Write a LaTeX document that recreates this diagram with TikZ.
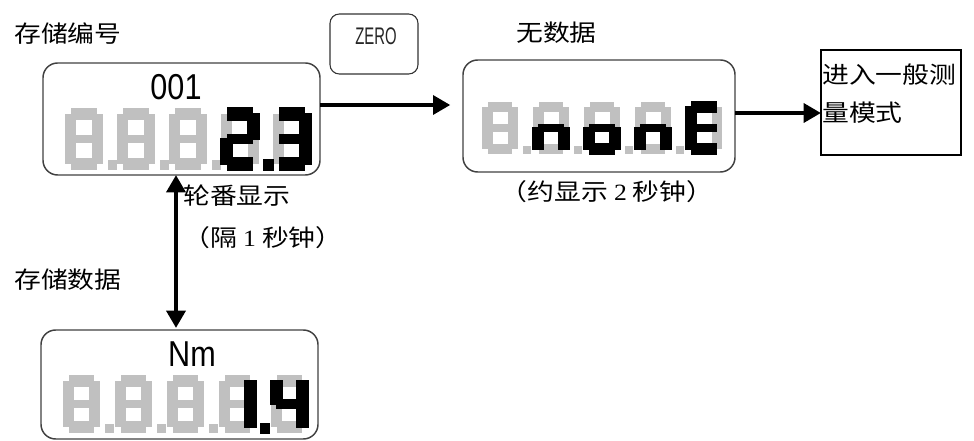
\documentclass[tikz,border=0pt]{standalone}
\usepackage{fontspec}
\setmainfont{Liberation Serif}
\newfontfamily\cjk{Noto Sans CJK SC}[FakeStretch=1.15]
\newfontfamily\tms{Liberation Serif}[FakeStretch=1.1]
\newfontfamily\lcdf{Liberation Sans}[FakeStretch=0.85]
\newfontfamily\zerof{Liberation Sans}[FakeStretch=0.62]
\usetikzlibrary{arrows.meta}
\definecolor{lcdgray}{RGB}{192,192,192}
\newcommand\SgA{\path[lseg] (1,0) rectangle (5,2);}
\newcommand\SgB{\path[lseg] (4.25,1) rectangle (6,5);}
\newcommand\SgC{\path[lseg] (4.25,5) rectangle (6,9);}
\newcommand\SgD{\path[lseg] (1,8) rectangle (5,10);}
\newcommand\SgE{\path[lseg] (0,5) rectangle (1.75,9);}
\newcommand\SgF{\path[lseg] (0,1) rectangle (1.75,5);}
\newcommand\SgG{\path[lseg] (1,4.3) rectangle (5,5.7);}
\newcommand\SgP{\path[lseg] (6.8,8.4) rectangle (8.2,10);}
\newcommand\SgAll{\SgA\SgB\SgC\SgD\SgE\SgF\SgG}
\newcommand\lcddigit[3]{\begin{scope}[shift={(#1*0.75pt,-#2*0.75pt)}]#3\end{scope}}
\begin{document}
\begin{tikzpicture}[x=0.75pt,y=-0.75pt,
  disp/.style={draw=black!75, line width=1.1pt, rounded corners=11pt, inner sep=0pt, outer sep=0pt},
  cn/.style={font=\cjk\fontsize{17.5pt}{20pt}\selectfont, inner sep=0pt},
  arr/.style={line width=3.4pt, -{Triangle[length=13pt,width=14pt]}},
  dbl/.style={line width=3.4pt, {Triangle[length=13pt,width=14pt]}-{Triangle[length=13pt,width=14pt]}},
  grayseg/.style={lseg/.style={fill=lcdgray}},
  blackseg/.style={lseg/.style={fill=black,draw=black,line width=1.2pt}}
]
\useasboundingbox (0,0) rectangle (974,441);
% display frames
\node[disp, minimum width=207.75pt, minimum height=84pt] (d1) at (181.5,119) {};
\node[disp, minimum width=204pt, minimum height=84pt] (d2) at (599,116) {};
\node[disp, minimum width=207.75pt, minimum height=81.75pt] (d3) at (179.5,384.5) {};
\node[draw=black!80, line width=0.8pt, rounded corners=7pt, minimum width=66pt, minimum height=45pt, inner sep=0pt, outer sep=0pt] (zero) at (374,44) {};
\node[draw=black, line width=1.4pt, minimum width=105pt, minimum height=78.75pt, inner sep=0pt, outer sep=0pt] (mode) at (891,102.5) {};
% display 1 digits
\begin{scope}[x=4.75pt,y=-4.65pt,grayseg]
  \foreach \p in {65,117,169} {\lcddigit{\p}{108}{\SgAll\SgP}}
  \lcddigit{221}{108}{\SgAll}
  \lcddigit{273}{108}{\SgAll}
\end{scope}
\begin{scope}[x=4.75pt,y=-4.65pt,blackseg]
  \lcddigit{221}{108}{\SgA\SgB\SgG\SgE\SgD\SgP}
  \lcddigit{273}{108}{\SgA\SgB\SgG\SgC\SgD}
\end{scope}
% display 2 digits
\begin{scope}[x=4.5pt,y=-3.9pt,grayseg]
  \foreach \p in {482,533,584,635} {\lcddigit{\p}{102}{\SgAll\SgP}}
  \lcddigit{686}{102}{\SgAll}
\end{scope}
\begin{scope}[x=4.5pt,y=-3.9pt,blackseg]
  \lcddigit{533}{102}{\SgE\SgG\SgC}
  \lcddigit{584}{102}{\SgE\SgG\SgC\SgD}
  \lcddigit{635}{102}{\SgE\SgG\SgC}
  \lcddigit{686}{102}{\SgA\SgF\SgG\SgE\SgD}
\end{scope}
% display 3 digits
\begin{scope}[x=4.625pt,y=-4.35pt,grayseg]
  \foreach \p in {63,115,167} {\lcddigit{\p}{375}{\SgAll\SgP}}
  \lcddigit{219}{375}{\SgAll}
  \lcddigit{271}{375}{\SgAll}
\end{scope}
\begin{scope}[x=4.625pt,y=-4.35pt,blackseg]
  \lcddigit{219}{375}{\SgB\SgC\SgP}
  \lcddigit{271}{375}{\SgF\SgB\SgG\SgC}
\end{scope}
% texts
\node[font=\lcdf\fontsize{27pt}{30pt}\selectfont, inner sep=0pt] (n001) at (176,87) {001};
\node[font=\lcdf\fontsize{27pt}{30pt}\selectfont, inner sep=0pt] (nm) at (192,354) {Nm};
\node[font=\zerof\fontsize{18pt}{20pt}\selectfont, text=black!85, inner sep=0pt] (zt) at (376,36.5) {ZERO};
\node[cn, anchor=west] (lbl1) at (14,34) {存储编号};
\node[cn, anchor=west] (lbl2) at (516,33) {无数据};
\node[cn] (lbl3) at (607,192) {（约显示 {\tms 2} 秒钟）};
\node[cn, anchor=west] (lbl4) at (183,196) {轮番显示};
\node[cn] (lbl5) at (263,238) {（隔 {\tms 1} 秒钟）};
\node[cn, anchor=west] (lbl6) at (14,280) {存储数据};
\node[cn, anchor=west] (m1) at (822,75) {进入一般测};
\node[cn, anchor=west] (m2) at (822,113) {量模式};
% arrows
\draw[arr, shorten >=9.5pt] ([yshift=10.5pt]d1.east) -- ([yshift=10.5pt]d1.east -| d2.west);
\draw[arr] ([yshift=2.25pt]d2.east) -- ([yshift=2.25pt]d2.east -| mode.west);
\draw[dbl, shorten >=1.5pt] ([xshift=-4.125pt]d1.south) -- ([xshift=-4.125pt]d1.south |- d3.north);
\end{tikzpicture}
\end{document}
